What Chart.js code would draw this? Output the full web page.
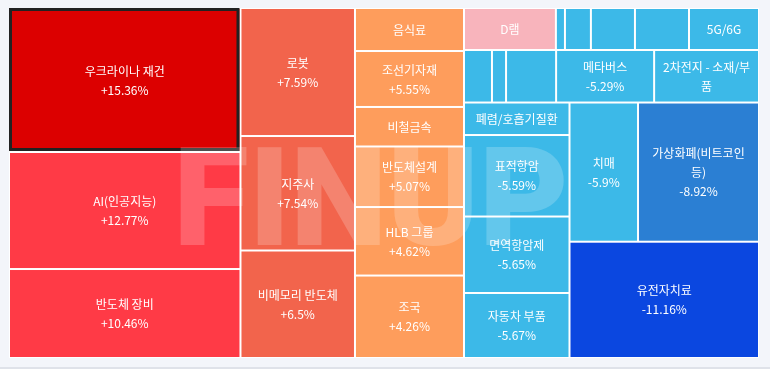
<!DOCTYPE html>
<html>
<head>
<meta charset="utf-8">
<script src="https://cdn.jsdelivr.net/npm/chart.js@4.4.1/dist/chart.umd.min.js"></script>
<style>
  html, body { margin: 0; padding: 0; background: #f3f5fa; }
  #wrap { position: relative; width: 770px; height: 369px; }
  #bottomLine { position: absolute; left: 0; right: 0; bottom: 0; height: 2px; background: #dfe2e9; }
</style>
</head>
<body>
<div id="wrap">
  <canvas id="treemap"></canvas>
  <div id="bottomLine"></div>
</div>
<script>
// theme names, ordered by change (desc)
const names = [
  '우크라이나 재건', 'AI(인공지능)', '반도체 장비',
  '로봇', '지주사', '비메모리 반도체',
  '음식료', '조선기자재', '비철금속', '반도체설계', 'HLB 그룹', '조국',
  'D램', '', '', '', '', '5G/6G',
  '', '', '', '메타버스', '2차전지 - 소재/부품',
  '폐렴/호흡기질환', '표적항암', '면역항암제', '자동차 부품',
  '치매', '가상화폐(비트코인 등)', '유전자치료'
];
// daily change in %
const changes = [
  15.36, 12.77, 10.46,
  7.59, 7.54, 6.5,
  5.8, 5.55, 5.3, 5.07, 4.62, 4.26,
  1.2, -0.5, -1.1, -1.9, -2.6, -3.2,
  -3.9, -4.4, -4.9, -5.29, -5.35,
  -5.45, -5.59, -5.65, -5.67,
  -5.9, -8.92, -11.16
];
// size value of each theme (cell area)
const weights = [
  333.4, 270.9, 206.0,
  146.6, 131.1, 123.1,
  46.9, 61.0, 43.1, 66.0, 74.7, 89.9,
  38.6, 3.8, 10.9, 18.5, 22.7, 29.4,
  14.7, 7.4, 26.3, 51.5, 55.1,
  34.3, 86.0, 80.7, 68.6,
  95.4, 168.4, 220.4
];
// grouping of the cells (nested, alternating split direction)
const groups = [
  [0, 1, 2],
  [3, 4, 5],
  [6, 7, 8, 9, 10, 11],
  [[12, 13, 14, 15, 16, 17], [18, 19, 20, 21, 22], [[23, 24, 25, 26], [[27, 28], 29]]]
];
const selected = 0;

function colorFor(c) {
  if (c >= 15) return '#dc0000';
  if (c >= 10) return '#ff3a46';
  if (c >= 6) return '#f2644c';
  if (c >= 3) return '#fe9d5c';
  if (c > 0) return '#f8b4bc';
  if (c > -8) return '#3cb9e8';
  if (c > -10) return '#2b7fd3';
  return '#0b47e0';
}

function total(node) {
  return Array.isArray(node) ? node.reduce((s, n) => s + total(n), 0) : weights[node];
}

// slice and dice layout in value space (0..1)
function layout(node, x0, y0, x1, y1, depth, out) {
  if (!Array.isArray(node)) { out[node] = { x0, y0, x1, y1 }; return; }
  const sum = total(node);
  let pos = depth % 2 === 0 ? x0 : y0;
  node.forEach(child => {
    const f = total(child) / sum;
    if (depth % 2 === 0) {
      const next = pos + (x1 - x0) * f;
      layout(child, pos, y0, next, y1, depth + 1, out);
      pos = next;
    } else {
      const next = pos + (y1 - y0) * f;
      layout(child, x0, pos, x1, next, depth + 1, out);
      pos = next;
    }
  });
}

const rects = [];
layout(groups, 0, 0, 1, 1, 0, rects);

const FONT = '12px "Noto Sans CJK KR", "Noto Sans", sans-serif';
const LINE_H = 19;

function wrap(ctx, text, maxW) {
  const lines = [];
  let cur = '';
  for (const ch of text) {
    const t = cur + ch;
    if (ctx.measureText(t.trimEnd()).width > maxW && cur.trim() !== '') {
      lines.push(cur.trimEnd());
      cur = ch === ' ' ? '' : ch;
    } else {
      cur = t;
    }
  }
  if (cur.trim() !== '') lines.push(cur.trimEnd());
  return lines;
}

const treemapPlugin = {
  id: 'treemapCells',
  afterDatasetsDraw(chart) {
    const { ctx, scales: { x, y }, chartArea } = chart;
    ctx.save();
    ctx.fillStyle = '#ffffff';
    ctx.fillRect(chartArea.left, chartArea.top, chartArea.right - chartArea.left, chartArea.bottom - chartArea.top);

    const px = rects.map(r => ({
      x0: x.getPixelForValue(r.x0), x1: x.getPixelForValue(r.x1),
      y0: y.getPixelForValue(r.y0), y1: y.getPixelForValue(r.y1)
    }));

    px.forEach((p, i) => {
      ctx.fillStyle = colorFor(changes[i]);
      ctx.fillRect(p.x0 + 1, p.y0 + 1, p.x1 - p.x0 - 2, p.y1 - p.y0 - 2);
    });

    // selected cell outline
    const s = px[selected];
    ctx.strokeStyle = '#222222';
    ctx.lineWidth = 3;
    ctx.strokeRect(s.x0 + 1.5, s.y0 + 1.5, s.x1 - s.x0 - 4, s.y1 - s.y0 - 4);

    // labels
    ctx.font = FONT;
    ctx.fillStyle = '#ffffff';
    ctx.textAlign = 'center';
    ctx.textBaseline = 'middle';
    px.forEach((p, i) => {
      if (!names[i]) return;
      const w = p.x1 - p.x0 - 2, h = p.y1 - p.y0 - 2;
      const maxLines = Math.floor((h - 8) / LINE_H);
      if (maxLines < 1) return;
      const pct = (changes[i] > 0 ? '+' : '') + changes[i] + '%';
      let lines = wrap(ctx, names[i], w - 14).concat([pct]);
      lines = lines.slice(0, maxLines);
      const cx = (p.x0 + p.x1) / 2, cy = (p.y0 + p.y1) / 2 + 0.5;
      const start = cy - (lines.length - 1) * LINE_H / 2;
      lines.forEach((ln, k) => ctx.fillText(ln, cx, start + k * LINE_H));
    });

    // watermark
    ctx.font = '900 138px Roboto, "DejaVu Sans", sans-serif';
    ctx.fillStyle = 'rgba(255,255,255,0.2)';
    ctx.textAlign = 'center';
    ctx.textBaseline = 'alphabetic';
    ctx.fillText('FINUP', 371, 245);
    ctx.restore();
  }
};

new Chart(document.getElementById('treemap'), {
  type: 'scatter',
  data: { datasets: [{ data: [], pointRadius: 0 }] },
  options: {
    responsive: true,
    maintainAspectRatio: false,
    animation: false,
    layout: { padding: { left: 9, top: 8, right: 11, bottom: 11 } },
    scales: {
      x: { type: 'linear', min: 0, max: 1, display: false },
      y: { type: 'linear', min: 0, max: 1, reverse: true, display: false }
    },
    plugins: { legend: { display: false }, tooltip: { enabled: false } }
  },
  plugins: [treemapPlugin]
});
</script>
</body>
</html>
